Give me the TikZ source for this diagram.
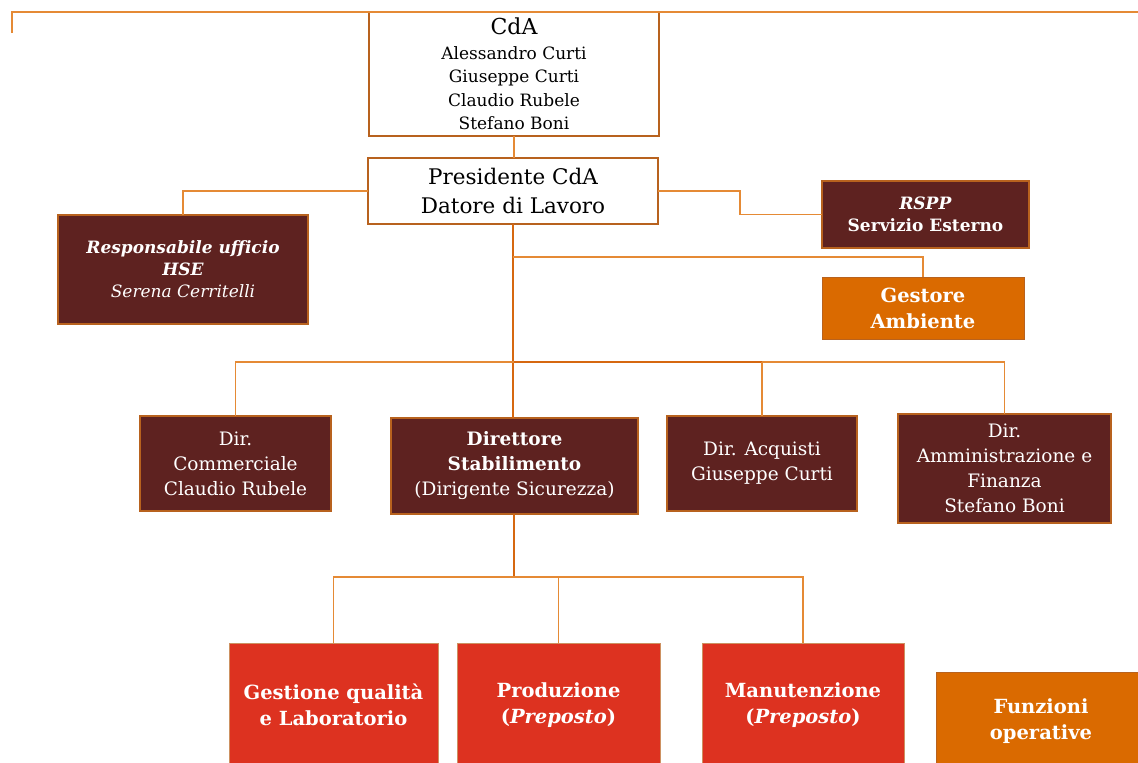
\documentclass[tikz,border=0pt]{standalone}
\usepackage{fontspec}
\setmainfont{DejaVu Serif}
\usetikzlibrary{positioning}
\definecolor{maroon}{RGB}{94,34,32}
\definecolor{boxline}{RGB}{184,98,30}
\definecolor{funred}{RGB}{221,50,32}
\definecolor{funorange}{RGB}{218,106,0}
\definecolor{link}{RGB}{229,138,53}
\definecolor{trunk}{RGB}{214,104,16}

\begin{document}
\begin{tikzpicture}[x=1pt,y=-1pt,
  every node/.style={inner sep=0pt,outer sep=0pt,align=center,anchor=north west},
  whitebox/.style={draw=boxline,line width=1.4pt,fill=white,text=black},
  darkbox/.style={draw=boxline,line width=1.2pt,fill=maroon,text=white},
  redbox/.style={draw=boxline!70,line width=1pt,fill=funred,text=white},
  orangebox/.style={draw=boxline,line width=1pt,fill=funorange,text=white},
  wire/.style={draw=link,line width=1.6pt},
  mainwire/.style={draw=trunk,line width=2.4pt}]
\useasboundingbox (0,0) rectangle (1138,763);
\node [whitebox,minimum width=290pt,minimum height=124pt,font=\fontsize{17}{23.5}\selectfont] (cda) at (369,12)
  {{\fontsize{22}{27}\selectfont CdA}\\[1pt]Alessandro Curti\\Giuseppe Curti\\Claudio Rubele\\Stefano Boni};
\node [whitebox,minimum width=290pt,minimum height=66pt,font=\fontsize{21.5}{29}\selectfont] (pres) at (368,158)
  {Presidente CdA\\Datore di Lavoro};
\node [darkbox,minimum width=250pt,minimum height=109pt,font=\fontsize{17}{22}\selectfont] (hse) at (58,215)
  {\textbf{\textit{Responsabile ufficio}}\\\textbf{\textit{HSE}}\\\textit{Serena Cerritelli}};
\node [darkbox,minimum width=207pt,minimum height=67pt,font=\fontsize{17}{22}\selectfont] (rspp) at (822,181)
  {\textbf{\textit{RSPP}}\\\textbf{Servizio Esterno}};
\node [orangebox,minimum width=202pt,minimum height=62pt,font=\fontsize{19.5}{26}\selectfont\bfseries] (gest) at (822,277)
  {Gestore\\Ambiente};
\node [darkbox,minimum width=191pt,minimum height=95pt,font=\fontsize{18.5}{25}\selectfont] (comm) at (140,416)
  {Dir.\\Commerciale\\Claudio Rubele};
\node [darkbox,minimum width=247pt,minimum height=96pt,font=\fontsize{18.5}{25}\selectfont] (stab) at (391,418)
  {\textbf{Direttore}\\\textbf{Stabilimento}\\(Dirigente Sicurezza)};
\node [darkbox,minimum width=190pt,minimum height=95pt,font=\fontsize{18.5}{25}\selectfont] (acq) at (667,416)
  {Dir. Acquisti\\Giuseppe Curti};
\node [darkbox,minimum width=213pt,minimum height=109pt,font=\fontsize{18.5}{25}\selectfont] (amm) at (898,414)
  {Dir.\\Amministrazione e\\Finanza\\Stefano Boni};
\node [redbox,minimum width=209pt,minimum height=124pt,font=\fontsize{19.5}{26}\selectfont\bfseries] (qual) at (229,643)
  {Gestione qualità\\e Laboratorio};
\node [redbox,minimum width=203pt,minimum height=124pt,font=\fontsize{19.5}{26}\selectfont\bfseries] (prod) at (457,643)
  {Produzione\\(\textit{Preposto})};
\node [redbox,minimum width=202pt,minimum height=124pt,font=\fontsize{19.5}{26}\selectfont\bfseries] (manu) at (702,643)
  {Manutenzione\\(\textit{Preposto})};
\node [orangebox,minimum width=210pt,minimum height=98pt,font=\fontsize{19.5}{26}\selectfont\bfseries] (funz) at (936,672)
  {Funzioni\\operative};
\coordinate (topleft) at (12,33);
\coordinate (topright) at (1140,12);
\coordinate (bus) at (514,362);
\coordinate (lowbus) at (514,577);
\draw [wire] (topleft) |- (topright);
\draw [wire] (cda.south) -- (cda.south |- pres.north);
\draw [wire] (pres.west) -| (hse.north);
\draw [wire] (pres.east) -- ++(82,0) |- (rspp.west);
\draw [mainwire] (pres.south) -- (pres.south |- stab.north);
\draw [wire] (pres.south |- gest.north) ++(0,-20) -| (gest.north);
\draw [wire] (comm.north) |- (bus) -| (amm.north);
\draw [mainwire] (bus) -- (acq.north |- bus);
\draw [wire] (acq.north) -- (acq.north |- bus);
\draw [mainwire] (stab.south -| bus) -- (lowbus);
\draw [wire] (qual.north) |- (lowbus) -| (manu.north);
\draw [wire] (prod.north) -- (prod.north |- lowbus);
\end{tikzpicture}
\end{document}
